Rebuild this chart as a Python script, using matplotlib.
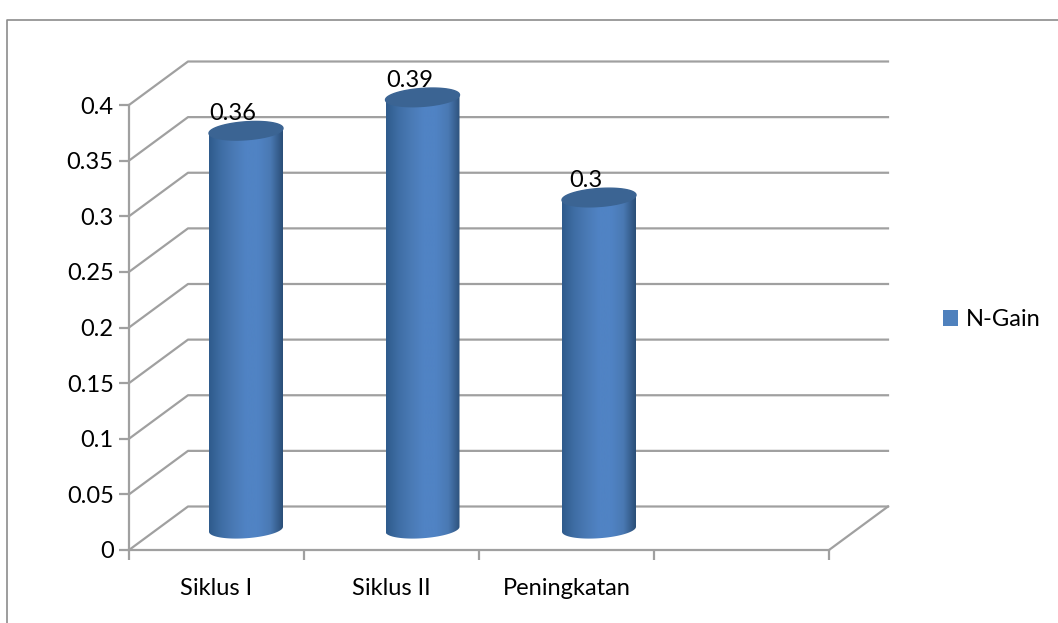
import numpy as np
import matplotlib
matplotlib.use("Agg")
import matplotlib.pyplot as plt
from matplotlib.colors import LinearSegmentedColormap
from matplotlib.lines import Line2D
from matplotlib.patches import PathPatch, Patch
from matplotlib.path import Path

# chart data
categories = ["Siklus I", "Siklus II", "Peningkatan", ""]
values = [0.36, 0.39, 0.3]
value_labels = ["0.36", "0.39", "0.3"]
yticks = [0, 0.05, 0.1, 0.15, 0.2, 0.25, 0.3, 0.35, 0.4]
ytick_labels = ["0", "0.05", "0.1", "0.15", "0.2", "0.25", "0.3", "0.35", "0.4"]
series_name = "N-Gain"

W, H = 1058, 623
GREY = "#a0a0a0"
FS = 17
plt.rcParams["font.family"] = ["Lato", "DejaVu Sans"]

fig = plt.figure(figsize=(W / 100, H / 100), dpi=100)
# front plane of the fake 3D box, pixels 129..829 and 105..550
ax = fig.add_axes([129 / W, 1 - 550 / H, 700 / W, 445 / H])

# one pixel in value units, and depth of the box in data units
px = 0.4 / 445
dx = 59 / 175
dy = 43.5 * px

for s in ["top", "right"]:
    ax.spines[s].set_visible(False)
for s in ["left", "bottom"]:
    ax.spines[s].set_color(GREY)
    ax.spines[s].set_linewidth(1.6)
ax.set_xticks(range(5))
ax.set_xticklabels([])
ax.set_xticks(np.arange(4) + 0.5, categories, minor=True)
ax.set_yticks(yticks, ytick_labels)
ax.tick_params(axis="both", which="major", color=GREY, width=1.6, length=7, labelsize=FS, pad=4)
ax.tick_params(axis="x", which="minor", length=0, labelsize=FS, pad=20)
for lab in ax.get_yticklabels():
    lab.set_verticalalignment("center_baseline")

# back wall gridlines and their diagonals
for t in yticks:
    ax.plot([0, dx, 4 + dx], [t, t + dy, t + dy], color=GREY, lw=1.6, clip_on=False, zorder=1)
ax.plot([4, 4 + dx], [0, dy], color=GREY, lw=1.6, clip_on=False, zorder=1)

cmap = LinearSegmentedColormap.from_list(
    "cyl", ["#2f5b8c", "#3f6ea5", "#4a7ab5", "#5083c4", "#5083c4", "#4a79b3", "#2b4f78"]
)
half_w = 37 / 175
ell_h = 9 * px
tilt = 2.5 * px
spacing = 176.5 / 175

for i, v in enumerate(values):
    cx = 0.5 + dx / 2 + i * spacing
    base = dy / 2 - 1 * px
    top = v + dy / 2 - 3 * px
    # bottom edge is a slanted half ellipse, left side sits lower
    th = np.linspace(np.pi, 2 * np.pi, 50)
    bx = cx + half_w * np.cos(th)
    by = base + ell_h * np.sin(th) + tilt * np.cos(th)
    tx = [cx + half_w, cx - half_w]
    ty = [top + tilt, top - tilt]
    verts = np.vstack([np.c_[bx, by], np.c_[tx, ty], [[bx[0], by[0]]]])
    patch = PathPatch(Path(verts), fc="none", ec="none")
    ax.add_patch(patch)
    img = ax.imshow(
        np.linspace(0, 1, 200).reshape(1, -1),
        cmap=cmap,
        extent=[cx - half_w, cx + half_w, 0, 0.45],
        aspect="auto",
        zorder=3,
    )
    img.set_clip_box(fig.bbox)
    img.set_clip_path(patch)
    # top cap
    th3 = np.linspace(0, 2 * np.pi, 100)
    cap_x = cx + half_w * np.cos(th3)
    cap_y = top + ell_h * np.sin(th3) + tilt * np.cos(th3)
    ax.fill(cap_x, cap_y, color="#3b6493", zorder=4, clip_on=False)
    ax.text(cx - 0.075, v + 36 * px, value_labels[i], ha="center", va="center",
            fontsize=FS, color="black", zorder=5)

ax.set_xlim(0, 4)
ax.set_ylim(0, 0.4)

# legend on the right
fig.legend(
    handles=[Patch(fc="#4f81bd", ec="none", label=series_name)],
    loc="center left",
    bbox_to_anchor=(943 / W, 1 - 320 / H),
    frameon=False,
    fontsize=FS,
    borderpad=0,
    borderaxespad=0,
    handlelength=0.64,
    handleheight=0.64,
    handletextpad=0.32,
)

# chart area border, only left and top are inside the picture
fig.add_artist(Line2D([7 / W, 7 / W, 1], [0, 1 - 20 / H, 1 - 20 / H], color="#8c8c8c", lw=1.2))

fig.savefig("out.png", dpi=100)
